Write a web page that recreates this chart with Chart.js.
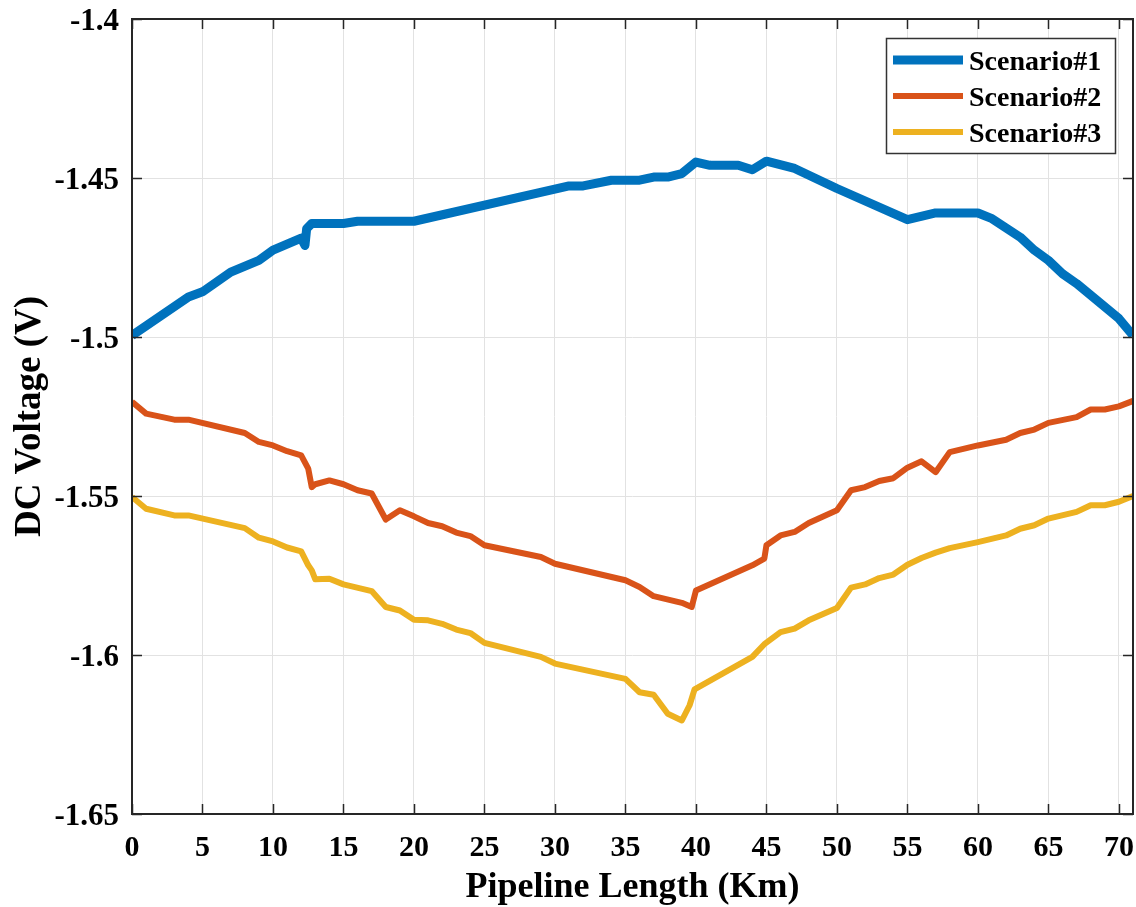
<!DOCTYPE html>
<html>
<head>
<meta charset="utf-8">
<script src="https://cdn.jsdelivr.net/npm/chart.js@4.4.1/dist/chart.umd.min.js"></script>
<style>
  html, body { margin: 0; padding: 0; background: #ffffff; }
  #wrap { width: 1136px; height: 907px; position: relative; }
</style>
</head>
<body>
<div id="wrap"><canvas id="c" width="1136" height="907"></canvas></div>
<script>
// ---- Data ----
const seriesNames = ['Scenario#1', 'Scenario#2', 'Scenario#3'];

const km1 = [0,4,5,7,9,10,12,12.27,12.39,12.75,15,16,20,31,32,34,36,37,38,39,40,41,43,44,45,47,50,55,57,60,61,63,64,65,66,67,70,71];
const v1  = [-1.4995,-1.4874,-1.4858,-1.4796,-1.4759,-1.4727,-1.4689,-1.4712,-1.4659,-1.4643,-1.4643,-1.4636,-1.4636,-1.4525,-1.4525,-1.4507,-1.4507,-1.4497,-1.4497,-1.4486,-1.445,-1.446,-1.446,-1.4474,-1.4447,-1.447,-1.4533,-1.4631,-1.461,-1.461,-1.4628,-1.4686,-1.4727,-1.4759,-1.4801,-1.4832,-1.4942,-1.4995];

const km2 = [0,1,3,4,8,9,10,11,12,12.5,12.75,13,14,15,16,17,18,19,20,21,22,23,24,25,29,30,35,36,37,39,39.7,40,44,44.85,45,46,47,48,50,51,52,53,54,55,56,57,58,60,62,63,64,65,67,68,69,70,71];
const v2  = [-1.5204,-1.5241,-1.526,-1.526,-1.5302,-1.533,-1.5341,-1.5359,-1.5372,-1.5414,-1.5472,-1.5463,-1.5451,-1.5463,-1.5482,-1.5492,-1.5574,-1.5545,-1.5564,-1.5585,-1.5595,-1.5615,-1.5626,-1.5655,-1.5692,-1.5713,-1.5765,-1.5786,-1.5815,-1.5836,-1.5849,-1.5797,-1.5718,-1.5697,-1.5655,-1.5624,-1.5613,-1.5585,-1.5545,-1.5482,-1.5472,-1.5453,-1.5444,-1.5411,-1.5391,-1.5425,-1.5362,-1.5341,-1.5323,-1.5302,-1.5291,-1.527,-1.5252,-1.5228,-1.5228,-1.5218,-1.5201];

const km3 = [0,1,3,4,8,9,10,11,12,12.5,12.75,13,14,15,17,18,19,20,21,22,23,24,25,29,30,35,36,37,38,39,39.55,39.9,44,44.9,46,47,48,50,51,52,53,54,55,56,57,58,60,62,63,64,65,67,68,69,70,71];
const v3  = [-1.5503,-1.554,-1.5561,-1.5561,-1.5601,-1.5631,-1.5643,-1.5662,-1.5674,-1.5718,-1.5734,-1.5762,-1.576,-1.5778,-1.5799,-1.5849,-1.586,-1.5889,-1.5891,-1.5902,-1.592,-1.5931,-1.5962,-1.6006,-1.6027,-1.6075,-1.6117,-1.6125,-1.6185,-1.6206,-1.6158,-1.6108,-1.6006,-1.5964,-1.5928,-1.5917,-1.5891,-1.5852,-1.5788,-1.5778,-1.5758,-1.5747,-1.5716,-1.5695,-1.5678,-1.5664,-1.5645,-1.5624,-1.5603,-1.5592,-1.5571,-1.555,-1.5529,-1.5529,-1.5518,-1.55];

const xTicks = [0,5,10,15,20,25,30,35,40,45,50,55,60,65,70];
const yTicks = [-1.65,-1.6,-1.55,-1.5,-1.45,-1.4];
const yTickLabels = ['-1.65','-1.6','-1.55','-1.5','-1.45','-1.4'];
const xTitle = 'Pipeline Length (Km)';
const yTitle = 'DC Voltage (V)';

// ---- Styles ----
const COLORS = ['#0072BD', '#D95319', '#EDB120'];
const WIDTHS = [9, 6, 6];
const FAMILY = "'Liberation Serif', 'Times New Roman', serif";
const AX = '#262626';

function pts(xs, ys) { return xs.map((x, i) => ({x: x, y: ys[i]})); }

const frameTicks = {
  id: 'frameTicks',
  afterDatasetsDraw(chart) {
    const {ctx, chartArea: a, scales} = chart;
    ctx.save();
    ctx.strokeStyle = AX;
    ctx.lineWidth = 1.5;
    const L = 10;
    ctx.beginPath();
    xTicks.forEach(v => {
      const px = Math.round(scales.x.getPixelForValue(v)) + 0.5;
      ctx.moveTo(px, a.bottom); ctx.lineTo(px, a.bottom - L);
      ctx.moveTo(px, a.top); ctx.lineTo(px, a.top + L);
    });
    yTicks.forEach(v => {
      const py = Math.round(scales.y.getPixelForValue(v)) + 0.5;
      ctx.moveTo(a.left, py); ctx.lineTo(a.left + L, py);
      ctx.moveTo(a.right, py); ctx.lineTo(a.right - L, py);
    });
    ctx.stroke();
    ctx.lineWidth = 2;
    ctx.strokeRect(a.left, a.top, a.right - a.left, a.bottom - a.top);
    ctx.restore();
  },
  afterDraw(chart) {
    const {ctx, chartArea: a} = chart;
    const bx = a.right - 247, by = a.top + 19, bw = 229, bh = 115;
    ctx.save();
    ctx.fillStyle = '#ffffff';
    ctx.fillRect(bx, by, bw, bh);
    ctx.strokeStyle = '#333333';
    ctx.lineWidth = 1.5;
    ctx.strokeRect(bx + 0.5, by + 0.5, bw, bh);
    ctx.font = 'bold 28px ' + FAMILY;
    ctx.textBaseline = 'alphabetic';
    ctx.textAlign = 'left';
    chart.data.datasets.forEach((ds, i) => {
      const cy = by + 22 + i * 36;
      ctx.strokeStyle = ds.borderColor;
      ctx.lineWidth = ds.borderWidth;
      ctx.beginPath();
      ctx.moveTo(bx + 7, cy); ctx.lineTo(bx + 77, cy);
      ctx.stroke();
      ctx.fillStyle = '#000000';
      ctx.fillText(ds.label, bx + 83, cy + 10);
    });
    ctx.restore();
  }
};

const datasets = [pts(km1, v1), pts(km2, v2), pts(km3, v3)].map((d, i) => ({
  label: seriesNames[i],
  data: d,
  borderColor: COLORS[i],
  backgroundColor: COLORS[i],
  borderWidth: WIDTHS[i],
  pointRadius: 0,
  showLine: true,
  tension: 0,
  fill: false,
  borderJoinStyle: 'round',
  borderCapStyle: 'butt'
}));

new Chart(document.getElementById('c'), {
  type: 'scatter',
  data: { datasets: datasets },
  options: {
    responsive: false,
    animation: false,
    layout: { padding: { top: 19, right: 3, left: 0, bottom: 0 } },
    plugins: { legend: { display: false }, tooltip: { enabled: false } },
    scales: {
      x: {
        type: 'linear', min: 0, max: 71,
        afterBuildTicks: s => { s.ticks = xTicks.map(v => ({value: v})); },
        afterFit: s => { s.height = 93; s.paddingLeft = 0; s.paddingRight = 0; },
        grid: { color: '#e2e2e2', lineWidth: 1, drawTicks: false },
        border: { display: false },
        ticks: { color: '#000', padding: 16, maxRotation: 0, autoSkip: false,
                 font: { family: FAMILY, size: 30, weight: 'bold' },
                 callback: v => String(v) },
        title: { display: true, text: xTitle, color: '#000',
                 font: { family: FAMILY, size: 36, weight: 'bold' },
                 padding: { top: 0, bottom: -2 } }
      },
      y: {
        type: 'linear', min: -1.65, max: -1.4,
        afterBuildTicks: s => { s.ticks = yTicks.map(v => ({value: v})); },
        afterFit: s => { s.width = 132; s.paddingTop = 0; s.paddingBottom = 0; },
        grid: { color: '#e2e2e2', lineWidth: 1, drawTicks: false },
        border: { display: false },
        ticks: { color: '#000', padding: 13, autoSkip: false, labelOffset: 3,
                 font: { family: FAMILY, size: 31, weight: 'bold' },
                 callback: v => { const i = yTicks.indexOf(v); return i >= 0 ? yTickLabels[i] : ''; } },
        title: { display: true, text: yTitle, color: '#000',
                 font: { family: FAMILY, size: 37, weight: 'bold' },
                 padding: { top: 8, bottom: 0 } }
      }
    }
  },
  plugins: [frameTicks]
});
</script>
</body>
</html>
